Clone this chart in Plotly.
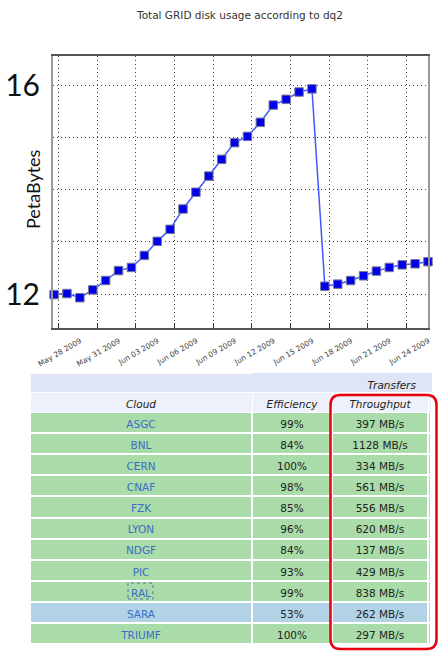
import plotly.graph_objects as go

# ---------------- data ----------------
days = ["2009-05-27", "2009-05-28", "2009-05-29", "2009-05-30", "2009-05-31",
        "2009-06-01", "2009-06-02", "2009-06-03", "2009-06-04", "2009-06-05",
        "2009-06-06", "2009-06-07", "2009-06-08", "2009-06-09", "2009-06-10",
        "2009-06-11", "2009-06-12", "2009-06-13", "2009-06-14", "2009-06-15",
        "2009-06-16", "2009-06-17", "2009-06-18", "2009-06-19", "2009-06-20",
        "2009-06-21", "2009-06-22", "2009-06-23", "2009-06-24", "2009-06-25"]
usage_pb = [11.99, 12.01, 11.93, 12.08, 12.26, 12.45, 12.51, 12.74, 13.01, 13.24,
            13.63, 13.95, 14.26, 14.58, 14.90, 15.02, 15.29, 15.62, 15.73, 15.87,
            15.93, 12.15, 12.19, 12.26, 12.35, 12.44, 12.51, 12.56, 12.58, 12.62]
x_tick_dates = ["2009-05-28", "2009-05-31", "2009-06-03", "2009-06-06", "2009-06-09",
                "2009-06-12", "2009-06-15", "2009-06-18", "2009-06-21", "2009-06-24"]
y_tick_vals = [12, 13, 14, 15, 16]
y_tick_text = ["12", "", "", "", "16"]

clouds = ["ASGC", "BNL", "CERN", "CNAF", "FZK", "LYON", "NDGF", "PIC", "RAL", "SARA", "TRIUMF"]
efficiency = ["99%", "84%", "100%", "98%", "85%", "96%", "84%", "93%", "99%", "53%", "100%"]
throughput = ["397 MB/s", "1128 MB/s", "334 MB/s", "561 MB/s", "556 MB/s", "620 MB/s",
              "137 MB/s", "429 MB/s", "838 MB/s", "262 MB/s", "297 MB/s"]
row_status = ["ok", "ok", "ok", "ok", "ok", "ok", "ok", "ok", "ok", "warn", "ok"]
header_top = ["", "", "\u00a0" * 7 + "Transfers", ""]
header_sub = ["Cloud", "Efficiency", "Throughput", ""]

title_text = "Total GRID disk usage according to dq2"
y_title = "PetaBytes"

# ---------------- figure ----------------
W, H = 440, 651
def px_x(p): return p / W
def px_y(p): return 1 - p / H

x_times = [d + " 16:00" for d in days]

fig = go.Figure()
fig.add_trace(go.Scatter(
    x=x_times, y=usage_pb, mode="lines+markers",
    line=dict(color="#4258ff", width=1.5),
    marker=dict(symbol="square", size=8.5, color="#0000e8",
                line=dict(color="#7a7a9a", width=1)),
    cliponaxis=False, showlegend=False,
))

# table
GREEN = "#a9dca8"
BLUE = "#b1d3e5"
HDR1 = "#dfe4f6"
HDR2 = "#eef0fb"
row_fill = [GREEN if s == "ok" else BLUE for s in row_status]
col4 = [""] * len(clouds)

fig.add_trace(go.Table(
    domain=dict(x=[px_x(30), px_x(431)], y=[px_y(648), px_y(373)]),
    columnwidth=[222, 80, 96, 3],
    header=dict(
        values=[[t, s] for t, s in zip(header_top, header_sub)],
        fill_color=[[HDR1, HDR2]] * 4,
        line=dict(color=[["#ffffff", "#ffffff"], [HDR1, "#ffffff"],
                         [HDR1, "#ffffff"], [HDR1, "#ffffff"]], width=1),
        align="center",
        height=19.5,
        font=dict(family="DejaVu Sans", size=10.5, color="#222222", style="italic"),
    ),
    cells=dict(
        values=[clouds, efficiency, throughput, col4],
        fill_color=[row_fill] * 4,
        line=dict(color="#ffffff", width=2),
        align="center",
        height=21.1,
        font=dict(family="DejaVu Sans", size=10.5,
                  color=["#3a6cc8", "#222222", "#222222", "#222222"]),
    ),
))

# red rounded highlight box
def rounded_rect(x0, y0, x1, y1, r):
    return (f"M {px_x(x0 + r)} {px_y(y0)} L {px_x(x1 - r)} {px_y(y0)} "
            f"Q {px_x(x1)} {px_y(y0)} {px_x(x1)} {px_y(y0 + r)} "
            f"L {px_x(x1)} {px_y(y1 - r)} "
            f"Q {px_x(x1)} {px_y(y1)} {px_x(x1 - r)} {px_y(y1)} "
            f"L {px_x(x0 + r)} {px_y(y1)} "
            f"Q {px_x(x0)} {px_y(y1)} {px_x(x0)} {px_y(y1 - r)} "
            f"L {px_x(x0)} {px_y(y0 + r)} "
            f"Q {px_x(x0)} {px_y(y0)} {px_x(x0 + r)} {px_y(y0)} Z")

fig.add_shape(type="path", xref="paper", yref="paper",
              path=rounded_rect(330.5, 395, 436.5, 649, 10),
              line=dict(color="#e8000c", width=2.5), layer="above")
# dotted focus box around RAL
fig.add_shape(type="rect", xref="paper", yref="paper",
              x0=px_x(128), x1=px_x(153), y0=px_y(599), y1=px_y(583),
              line=dict(color="#5577aa", width=1, dash="dot"), layer="above")

fig.add_annotation(text=title_text, xref="paper", yref="paper",
                   x=px_x(239), y=px_y(15), showarrow=False,
                   xanchor="center", yanchor="middle",
                   font=dict(family="DejaVu Sans", size=10.5, color="#333333"))
fig.add_annotation(text=y_title, xref="paper", yref="paper",
                   x=px_x(33), y=px_y(189), showarrow=False, textangle=-90,
                   xanchor="center", yanchor="middle",
                   font=dict(family="Lato", size=18, color="#111111"))

fig.update_layout(
    width=W, height=H, autosize=False,
    margin=dict(l=0, r=0, t=0, b=0, autoexpand=False),
    paper_bgcolor="white", plot_bgcolor="white",
    xaxis=dict(
        domain=[px_x(53), px_x(428)], automargin=False,
        range=["2009-05-27 14:00", "2009-06-25 16:00"],
        tickvals=x_tick_dates, tickformat="%b %d %Y", tickangle=-30,
        tickfont=dict(family="DejaVu Sans", size=7.5, color="#444444"),
        ticks="inside", ticklen=5, tickcolor="#333333",
        ticklabelshift=22, ticklabelstandoff=4,
        showgrid=True, gridcolor="#444444", griddash="1px,3px", gridwidth=1,
        showline=True, linecolor="#555555", linewidth=1.5, mirror=True,
        zeroline=False,
    ),
    yaxis=dict(
        domain=[px_y(328), px_y(56)], automargin=False,
        range=[11.35, 16.56],
        tickvals=y_tick_vals, ticktext=y_tick_text,
        tickfont=dict(family="Lato", size=30, color="#111111"),
        ticks="", ticklabelstandoff=5,
        showgrid=True, gridcolor="#444444", griddash="1px,3px", gridwidth=1,
        showline=True, linecolor="#999999", linewidth=2, mirror=True,
        zeroline=False,
    ),
)

fig.write_html("out.html", config={"displayModeBar": False},
               post_script="document.body.style.margin='0px';document.body.style.overflow='hidden';")
